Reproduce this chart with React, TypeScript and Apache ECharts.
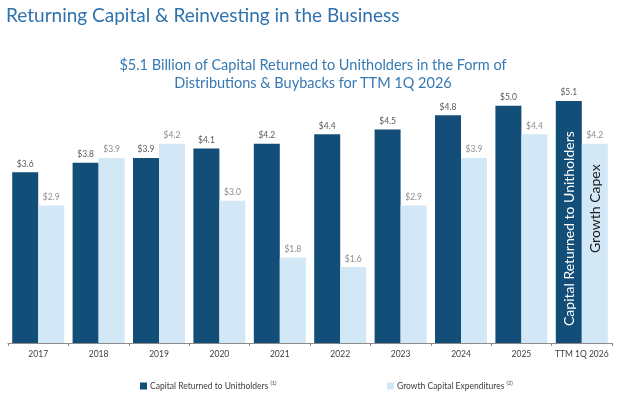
import React, { useEffect, useRef } from "react";
import * as echarts from "echarts";

const categories = ["2017", "2018", "2019", "2020", "2021", "2022", "2023", "2024", "2025", "TTM 1Q 2026"];
const capitalReturned = [3.6, 3.8, 3.9, 4.1, 4.2, 4.4, 4.5, 4.8, 5.0, 5.1];
const growthCapex = [2.9, 3.9, 4.2, 3.0, 1.8, 1.6, 2.9, 3.9, 4.4, 4.2];
const seriesNames = ["Capital Returned to Unitholders", "Growth Capital Expenditures"];
const footnotes = ["(1)", "(2)"];

const DARK = "#124E78";
const LIGHT = "#D3E8F6";
const FONT = "Lato, 'Open Sans', sans-serif";

const W = 620;
const H = 397;
const GRID = { left: 8, right: 8, top: 82, bottom: 54 };
const BW = 26;

export default function App() {
  const ref = useRef<HTMLDivElement>(null);
  useEffect(() => {
    if (!ref.current) return;
    const chart = echarts.init(ref.current, null, { renderer: "svg" });
    const catW = (W - GRID.left - GRID.right) / categories.length;
    const cx = GRID.left + catW * (categories.length - 0.5);
    const base = H - GRID.bottom;
    chart.setOption({
      animation: false,
      textStyle: { fontFamily: FONT },
      title: [
        {
          text: "Returning Capital & Reinvesting in the Business",
          left: 1,
          top: 0,
          textStyle: { fontFamily: FONT, fontSize: 19, fontWeight: "normal", color: "#2F72AE" },
        },
        {
          text: "$5.1 Billion of Capital Returned to Unitholders in the Form of\nDistributions & Buybacks for TTM 1Q 2026",
          left: 308,
          textAlign: "center",
          top: 50,
          textStyle: { fontFamily: FONT, fontSize: 14.5, fontWeight: "normal", color: "#3779B2", lineHeight: 18 },
        },
      ],
      legend: [0, 1].map((i) => ({
        data: [seriesNames[i]],
        left: i === 0 ? 135 : 382,
        top: 375,
        itemWidth: 7,
        itemHeight: 7,
        icon: "rect",
        itemGap: 4,
        formatter: (name: string) => `${name} {sup|${footnotes[i]}}`,
        textStyle: {
          fontFamily: FONT,
          fontSize: 8.5,
          color: "#404040",
          padding: [0, 0, 0, -2],
          rich: { sup: { fontSize: 5.5, color: "#404040", verticalAlign: "top", padding: [0, 0, 6, 0] } },
        },
      })),
      grid: GRID,
      xAxis: {
        type: "category",
        data: categories,
        axisLine: { lineStyle: { color: "#8C8C8C", width: 1 } },
        axisTick: { show: true, length: 3, lineStyle: { color: "#8C8C8C" } },
        axisLabel: { fontFamily: FONT, fontSize: 8.5, color: "#404040", margin: 6, interval: 0 },
      },
      yAxis: { type: "value", min: 0, max: 5.5, show: false, splitLine: { show: false } },
      graphic: {
        elements: [
          {
            type: "text",
            x: cx - BW / 2,
            y: base - 17,
            rotation: Math.PI / 2,
            z: 100,
            style: {
              text: "Capital Returned to Unitholders",
              fill: "#FFFFFF",
              fontSize: 14,
              fontFamily: FONT,
              align: "left",
              verticalAlign: "middle",
            },
          },
          {
            type: "text",
            x: cx + BW / 2,
            y: base - 90,
            rotation: Math.PI / 2,
            z: 100,
            style: {
              text: "Growth Capex",
              fill: "#1A1A1A",
              fontSize: 14,
              fontFamily: FONT,
              align: "left",
              verticalAlign: "middle",
            },
          },
        ],
      },
      series: [
        {
          name: seriesNames[0],
          type: "bar",
          data: capitalReturned,
          barWidth: BW,
          barGap: "0%",
          itemStyle: { color: DARK },
          label: {
            show: true,
            position: "top",
            distance: 4,
            formatter: (p: any) => "$" + Number(p.value).toFixed(1),
            fontFamily: FONT,
            fontSize: 8.5,
            color: "#595959",
          },
        },
        {
          name: seriesNames[1],
          type: "bar",
          data: growthCapex,
          barWidth: BW,
          itemStyle: { color: LIGHT },
          label: {
            show: true,
            position: "top",
            distance: 4,
            formatter: (p: any) => "$" + Number(p.value).toFixed(1),
            fontFamily: FONT,
            fontSize: 8.5,
            color: "#8C8C8C",
          },
        },
      ],
    });
    return () => chart.dispose();
  }, []);
  return <div ref={ref} style={{ position: "fixed", left: 0, top: 0, width: W, height: H }} />;
}
